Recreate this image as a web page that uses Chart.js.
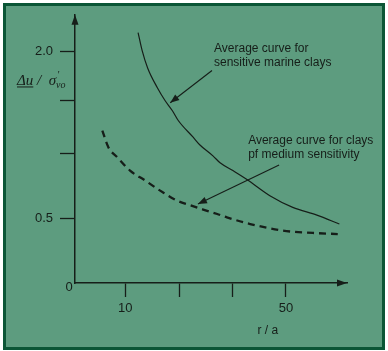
<!DOCTYPE html>
<html lang="en">
<head>
<meta charset="UTF-8" />
<title>Pore pressure vs r/a</title>
<script src="https://cdn.jsdelivr.net/npm/chart.js"></script>
<style>
  body { margin: 0; background: #fff; }
</style>
</head>
<body>
<canvas id="grafica" width="388" height="351"></canvas>
<script>
// r/a and du/sigma'vo
const rSensitive = [13.2, 14.2, 15.6, 18.0, 19.9, 21.7, 23.2, 26.9, 28.6, 31.9, 33.6, 36.8, 40.3, 46.0, 51.7, 57.7, 63.3];
const uSensitive = [2.17, 2.01, 1.85, 1.675, 1.56, 1.47, 1.38, 1.23, 1.16, 1.06, 1.00, 0.93, 0.85, 0.705, 0.60, 0.53, 0.45];
const rMedium = [4.3, 5.8, 8.0, 11.2, 15.0, 18.7, 22.9, 26.1, 29.4, 32.9, 35.3, 41.1, 49.3, 56.7, 62.9];
const uMedium = [1.29, 1.14, 1.05, 0.93, 0.84, 0.75, 0.66, 0.62, 0.58, 0.54, 0.51, 0.45, 0.39, 0.37, 0.36];

const xTicks = [10, 23.4, 36.8, 50];
const xTickLabels = ["10", "", "", "50"];
const yTicks = [0.5, 1.08, 1.56, 2.0];
const yTickLabels = ["0.5", "", "", "2.0"];

const ink = "#161e19";
const toPoints = (xs, ys) => xs.map((x, i) => ({ x, y: ys[i] }));

// notes in data coordinates
const notes = [
  { lines: ["Average curve for", "sensitive marine clays"], x: 32.1, y: 2.0, from: [31.6, 1.83], to: [21.2, 1.54] },
  { lines: ["Average curve for clays", "pf medium sensitivity"], x: 40.6, y: 1.17, from: [48.3, 0.98], to: [28.1, 0.63] }
];

function arrowHead(ctx, x1, y1, x2, y2, len, half) {
  const a = Math.atan2(y2 - y1, x2 - x1);
  ctx.beginPath();
  ctx.moveTo(x2, y2);
  ctx.lineTo(x2 - len * Math.cos(a) + half * Math.sin(a), y2 - len * Math.sin(a) - half * Math.cos(a));
  ctx.lineTo(x2 - len * Math.cos(a) - half * Math.sin(a), y2 - len * Math.sin(a) + half * Math.cos(a));
  ctx.closePath();
  ctx.fill();
}

const decor = {
  id: "decor",
  beforeDraw(chart) {
    const ctx = chart.ctx;
    ctx.save();
    ctx.fillStyle = "#ffffff";
    ctx.fillRect(0, 0, chart.width, chart.height);
    ctx.fillStyle = "#0b5636";
    ctx.fillRect(3, 3, 382, 347);
    ctx.fillStyle = "#5d9c7f";
    ctx.fillRect(6, 6, 376, 341);
    ctx.restore();
  },
  afterDraw(chart) {
    const { ctx, chartArea: a, scales: { x, y } } = chart;
    ctx.save();
    ctx.fillStyle = ink;
    ctx.strokeStyle = ink;

    // axis arrows
    arrowHead(ctx, a.left, a.top + 20, a.left, a.top, 10, 3.5);
    arrowHead(ctx, a.right - 20, a.bottom, a.right, a.bottom, 10, 3.5);

    // origin label
    ctx.font = "13px 'Liberation Sans', Arial, sans-serif";
    ctx.textAlign = "center";
    ctx.textBaseline = "middle";
    ctx.fillText("0", a.left - 6, a.bottom + 4);

    // x title
    ctx.font = "12px 'Liberation Sans', Arial, sans-serif";
    ctx.fillText("r / a", x.getPixelForValue(45.5), a.bottom + 48);

    // y title
    const ly = y.getPixelForValue(1.74);
    ctx.font = "italic 15px 'Liberation Serif', 'DejaVu Serif', serif";
    ctx.textAlign = "left";
    ctx.textBaseline = "alphabetic";
    let tx = 17;
    ctx.fillText("\u0394u", tx, ly + 5);
    const w1 = ctx.measureText("\u0394u").width;
    ctx.lineWidth = 1;
    ctx.beginPath();
    ctx.moveTo(tx, ly + 6.5);
    ctx.lineTo(tx + w1, ly + 6.5);
    ctx.stroke();
    tx += w1;
    ctx.fillText(" /  \u03c3", tx, ly + 5);
    tx += ctx.measureText(" /  \u03c3").width;
    ctx.font = "italic 10px 'Liberation Serif', serif";
    ctx.fillText("'", tx + 1, ly - 2);
    ctx.fillText("vo", tx, ly + 8);

    // notes with arrows
    ctx.font = "12px 'Liberation Sans', Arial, sans-serif";
    ctx.textAlign = "left";
    ctx.textBaseline = "alphabetic";
    notes.forEach(n => {
      const px = x.getPixelForValue(n.x);
      const py = y.getPixelForValue(n.y);
      n.lines.forEach((t, i) => ctx.fillText(t, px, py + i * 14.5));
      const x1 = x.getPixelForValue(n.from[0]), y1 = y.getPixelForValue(n.from[1]);
      const x2 = x.getPixelForValue(n.to[0]), y2 = y.getPixelForValue(n.to[1]);
      ctx.lineWidth = 1.1;
      ctx.beginPath();
      ctx.moveTo(x1, y1);
      ctx.lineTo(x2, y2);
      ctx.stroke();
      arrowHead(ctx, x1, y1, x2, y2, 9, 3.5);
    });
    ctx.restore();
  }
};

const tickFont = { family: "'Liberation Sans', Arial, sans-serif", size: 13 };

new Chart(document.getElementById("grafica"), {
  type: "scatter",
  data: {
    datasets: [
      {
        label: "Sensitive marine clays",
        data: toPoints(rSensitive, uSensitive),
        showLine: true,
        borderColor: ink,
        borderWidth: 1.2,
        pointRadius: 0,
        cubicInterpolationMode: "monotone"
      },
      {
        label: "Medium sensitivity",
        data: toPoints(rMedium, uMedium),
        showLine: true,
        borderColor: ink,
        borderWidth: 2.3,
        borderDash: [7, 5],
        pointRadius: 0,
        cubicInterpolationMode: "monotone"
      }
    ]
  },
  options: {
    responsive: false,
    animation: false,
    layout: { padding: { top: 14, right: 41, left: 0, bottom: 0 } },
    plugins: { legend: { display: false }, tooltip: { enabled: false } },
    scales: {
      x: {
        type: "linear",
        min: -2.5,
        max: 65.2,
        afterFit: s => { s.height = 68; },
        afterBuildTicks: s => { s.ticks = xTicks.map(v => ({ value: v })); },
        ticks: {
          autoSkip: false,
          maxRotation: 0,
          padding: 4,
          color: ink,
          font: tickFont,
          callback: (v, i) => xTickLabels[i]
        },
        grid: { drawOnChartArea: false, drawTicks: true, tickLength: 14, tickColor: ink, tickWidth: 1.3 },
        border: { display: true, color: ink, width: 1.5 }
      },
      y: {
        type: "linear",
        min: -0.08,
        max: 2.33,
        afterFit: s => { s.width = 75; },
        afterBuildTicks: s => { s.ticks = yTicks.map(v => ({ value: v })); },
        ticks: {
          autoSkip: false,
          padding: 7,
          color: ink,
          font: tickFont,
          callback: (v, i) => yTickLabels[i]
        },
        grid: { drawOnChartArea: false, drawTicks: true, tickLength: 15, tickColor: ink, tickWidth: 1.3 },
        border: { display: true, color: ink, width: 1.5 }
      }
    }
  },
  plugins: [decor]
});
</script>
</body>
</html>
